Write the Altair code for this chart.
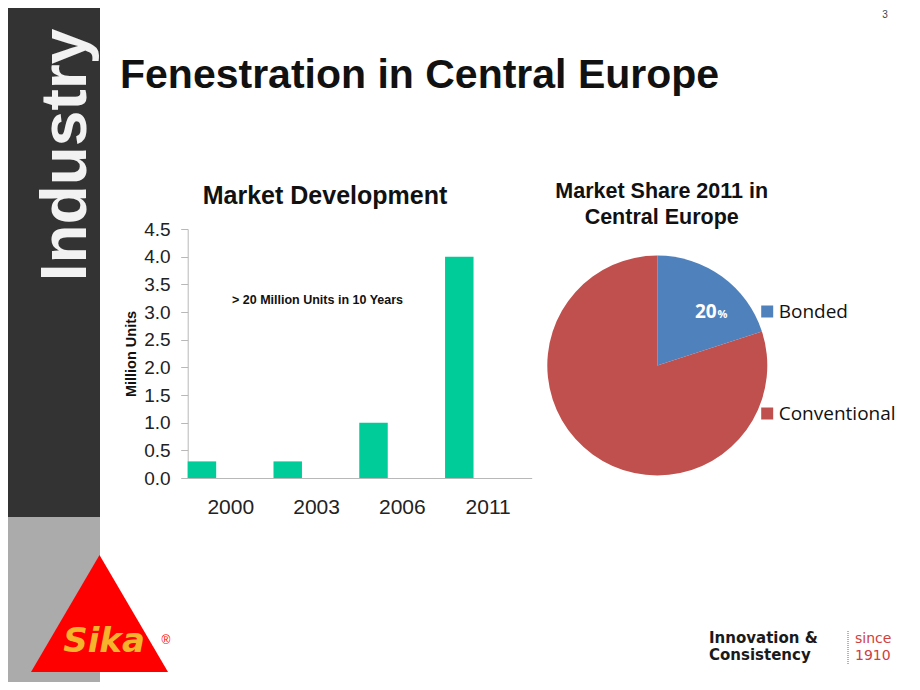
import altair as alt
import pandas as pd

# ---------------- data ----------------
years = ["2000", "2003", "2006", "2011"]
units = [0.3, 0.3, 1.0, 4.0]
y_ticks = [0.0, 0.5, 1.0, 1.5, 2.0, 2.5, 3.0, 3.5, 4.0, 4.5]
segments = ["Bonded", "Conventional"]
shares = [20, 80]
seg_colors = ["#4F81BD", "#C0504D"]

bar_df = pd.DataFrame({"year": years, "units": units})
pie_df = pd.DataFrame({"segment": segments, "share": shares})
one = pd.DataFrame({"k": [0]})

W, H = 904, 674
M = 8  # page margin


def px(v):
    return v - M


ARIAL = "Liberation Sans"
CALIBRI = "Open Sans"


def rect(x0, x1, y0, y1, color):
    return alt.Chart(one).mark_rect(color=color).encode(
        x=alt.value(px(x0)), x2=alt.value(px(x1)),
        y=alt.value(px(y0)), y2=alt.value(px(y1)))


def label(text, x, y, **kw):
    return alt.Chart(one).mark_text(text=text, **kw).encode(
        x=alt.value(px(x)), y=alt.value(px(y)))


# ---------------- slide decoration ----------------
dark = rect(0, 100, 0, 517, "#333333")
light = rect(0, 100, 517, 700, "#ABABAB")
industry = label("Industry", 86, 155, angle=270, align="center", baseline="alphabetic",
                 font=ARIAL, fontSize=64, fontWeight="bold", color="#F2F2F2")
triangle = alt.Chart(one).mark_point(
    shape="M0,-0.854L1,0.854L-1,0.854Z", filled=True, opacity=1, color="#FF0000",
    size=137 * 137).encode(x=alt.value(px(99.5)), y=alt.value(px(613.5)))
sika = label("Sika", 104, 652, align="center", baseline="alphabetic", font="DejaVu Sans",
             fontSize=34, fontWeight="bold", fontStyle="italic", color="#F6B42C")
reg = label("®", 166, 640, align="center", baseline="middle", font=ARIAL,
            fontSize=12, color="#FF0000")
pagenum = label("3", 885, 15, align="center", baseline="middle", font=ARIAL,
                fontSize=10, color="#444444")
slide_title = label("Fenestration in Central Europe", 120, 88, align="left",
                    baseline="alphabetic", font=ARIAL, fontSize=41, fontWeight="bold",
                    color="#111111")
foot1 = label("Innovation &", 709, 643, align="left", baseline="alphabetic",
              font="DejaVu Sans", fontSize=15, fontWeight="bold", color="#1A1A1A")
foot2 = label("Consistency", 709, 660, align="left", baseline="alphabetic",
              font="DejaVu Sans", fontSize=15, fontWeight="bold", color="#1A1A1A")
since1 = label("since", 855, 643, align="left", baseline="alphabetic",
               font="DejaVu Sans", fontSize=14, color="#D04040")
since2 = label("1910", 855, 660, align="left", baseline="alphabetic",
               font="DejaVu Sans", fontSize=14, color="#D04040")
sep = alt.Chart(one).mark_rule(color="#D04040", strokeDash=[1, 1], strokeWidth=1).encode(
    x=alt.value(px(848)), y=alt.value(px(631)), y2=alt.value(px(664)))

# ---------------- bar chart ----------------
bar_title = label("Market Development", 325, 196, align="center", baseline="middle",
                  font=ARIAL, fontSize=25, fontWeight="bold", color="#111111")
note = label("> 20 Million Units in 10 Years", 317.5, 300, align="center",
             baseline="middle", font=ARIAL, fontSize=12.5, fontWeight="bold",
             color="#111111")

bars = alt.Chart(bar_df).mark_bar(color="#00CC99").encode(
    x=alt.X("year:N", sort=None,
            scale=alt.Scale(range=[px(187.7), px(531.7)], paddingInner=0.668,
                            paddingOuter=0.339, align=0),
            axis=alt.Axis(orient="bottom", offset=px(478) - H, title=None,
                          ticks=False, labelAngle=0, labelOffset=28.85,
                          labelPadding=18, labelFont=ARIAL, labelFontSize=21,
                          labelColor="#222222", domainColor="#B8B8B8", grid=False)),
    y=alt.Y("units:Q",
            scale=alt.Scale(domain=[0, 4.5], range=[px(478), px(229)], nice=False),
            axis=alt.Axis(orient="left", offset=-px(187.7), values=y_ticks, format=".1f",
                          tickSize=7, tickColor="#B8B8B8", domainColor="#B8B8B8",
                          labelPadding=10.5, labelFont=ARIAL, labelFontSize=19,
                          labelColor="#222222", grid=False, title="Million Units",
                          titleFont=ARIAL, titleFontSize=14.5, titleFontWeight="bold",
                          titleColor="#111111", titlePadding=5)),
)

# ---------------- pie chart ----------------
pie_title = alt.Chart(one).mark_text(
    text="Market Share 2011 in\nCentral Europe", lineBreak="\n", lineHeight=26.7,
    align="center", baseline="alphabetic", font=ARIAL, fontSize=21.5,
    fontWeight="bold", color="#111111").encode(
    x=alt.value(px(661.7)), y=alt.value(px(197.7)))

pie = alt.Chart(pie_df).mark_arc(radius=110).encode(
    theta=alt.Theta("share:Q", stack=True),
    color=alt.Color("segment:N",
                    scale=alt.Scale(domain=segments, range=seg_colors),
                    legend=alt.Legend(orient="none", legendX=px(757.7), legendY=px(302),
                                      title=None, symbolType="square", symbolSize=144,
                                      symbolStrokeWidth=0, labelFont=CALIBRI,
                                      labelFontSize=19, labelColor="#111111",
                                      labelOffset=2, rowPadding=82, padding=0)),
    order=alt.Order("segment:N", sort="ascending"),
    x=alt.value(px(657.3)), y=alt.value(px(365.5)),
)

pct_num = alt.Chart(pie_df).transform_filter(alt.datum.segment == "Bonded").mark_text(
    align="right", baseline="alphabetic", font=CALIBRI, fontSize=19,
    fontWeight="bold", color="white").encode(
    text="share:Q", x=alt.value(px(716.7)), y=alt.value(px(318.3)))
pct_sign = label("%", 717.5, 318.3, align="left", baseline="alphabetic", font=CALIBRI,
                 fontSize=11, fontWeight="bold", color="white")

chart = alt.layer(
    dark, light, industry, triangle, sika, reg, pagenum, slide_title,
    foot1, foot2, since1, since2, sep,
    bar_title, note, bars,
    pie_title, pie, pct_num, pct_sign,
).properties(
    width=W, height=H, padding=0,
    autosize=alt.AutoSizeParams(type="none"),
    background="white",
).configure_view(stroke=None)

chart.save("out.html", embed_options={"renderer": "svg", "actions": False})
